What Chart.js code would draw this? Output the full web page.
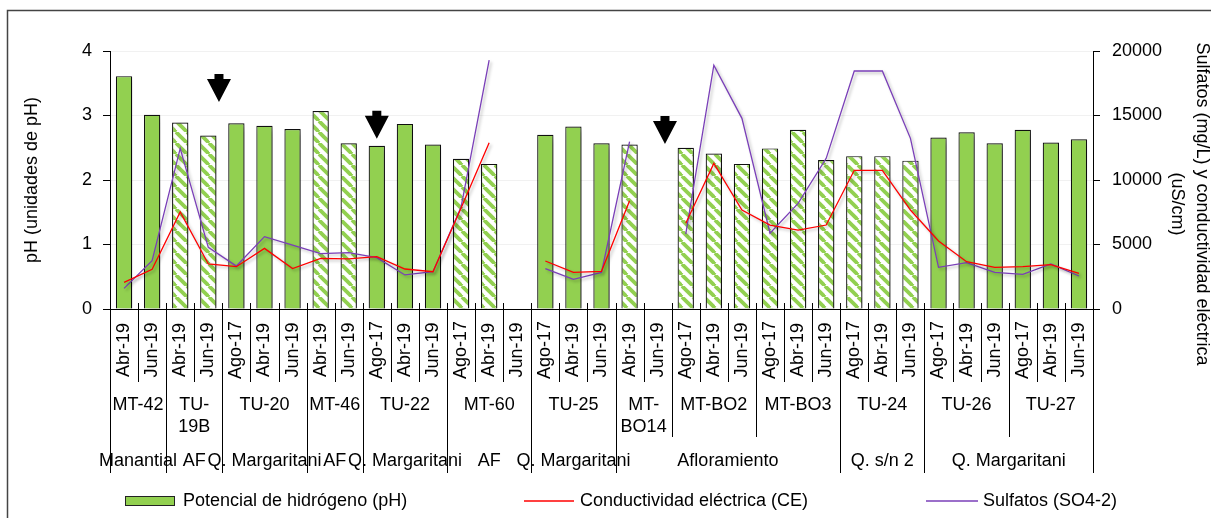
<!DOCTYPE html>
<html>
<head>
<meta charset="utf-8">
<script src="https://cdn.jsdelivr.net/npm/chart.js@4.4.0/dist/chart.umd.min.js"></script>
<style>
  html, body { margin: 0; padding: 0; background: #fff; }
  canvas { display: block; }
</style>
</head>
<body>
<canvas id="chart" width="1211" height="518"></canvas>
<script>
// Sampling campaign of every measurement (one bar each)
const dates = [
  'Abr-19', 'Jun-19',
  'Abr-19', 'Jun-19',
  'Ago-17', 'Abr-19', 'Jun-19',
  'Abr-19', 'Jun-19',
  'Ago-17', 'Abr-19', 'Jun-19',
  'Ago-17', 'Abr-19', 'Jun-19',
  'Ago-17', 'Abr-19', 'Jun-19',
  'Abr-19', 'Jun-19',
  'Ago-17', 'Abr-19', 'Jun-19',
  'Ago-17', 'Abr-19', 'Jun-19',
  'Ago-17', 'Abr-19', 'Jun-19',
  'Ago-17', 'Abr-19', 'Jun-19',
  'Ago-17', 'Abr-19', 'Jun-19'
];

// Monitoring stations (text lines as printed) and how many campaigns each one has
const stationNames = [
  ['MT-42'], ['TU-', '19B'], ['TU-20'], ['MT-46'], ['TU-22'], ['MT-60'], ['TU-25'],
  ['MT-', 'BO14'], ['MT-BO2'], ['MT-BO3'], ['TU-24'], ['TU-26'], ['TU-27']
];
const stationSizes = [2, 2, 3, 2, 3, 3, 3, 2, 3, 3, 3, 3, 3];

// Water source of each run of stations
const sourceNames = ['Manantial', 'AF', 'Q. Margaritani', 'AF', 'Q. Margaritani', 'AF',
                     'Q. Margaritani', 'Afloramiento', 'Q. s/n 2', 'Q. Margaritani'];
const sourceSizes = [1, 1, 1, 1, 1, 1, 1, 3, 1, 2];

// pH (left axis)
const ph = [3.61, 3.01, 2.89, 2.69, 2.88, 2.84, 2.79, 3.07, 2.57, 2.53, 2.87, 2.55,
            2.33, 2.25, null, 2.70, 2.83, 2.57, 2.55, null, 2.50, 2.41, 2.25, 2.49,
            2.78, 2.31, 2.37, 2.37, 2.30, 2.66, 2.74, 2.57, 2.78, 2.58, 2.63];

// Electrical conductivity, uS/cm (right axis)
const ce = [2070, 3080, 7520, 3490, 3280, 4700, 3130, 3930, 3880, 4060, 3100, 2890,
            7830, 12890, null, 3720, 2840, 2920, 8400, null, 6640, 11290, 7670, 6510,
            6120, 6510, 10750, 10750, 7670, 5270, 3670, 3230, 3280, 3440, 2770];

// Sulphates, mg/L (right axis)
const so4 = [1600, 3750, 12450, 4780, 3330, 5610, 4960, 4290, 4370, 3980, 2640, 2890,
             7900, 19300, null, 3130, 2300, 2840, 12970, null, 5810, 18900, 14780, 5870,
             8190, 11680, 18450, 18450, 13230, 3230, 3590, 2840, 2690, 3490, 2560];

// Left-axis and right-axis tick steps
const phTicks = [0, 1, 2, 3, 4];
const concTicks = [0, 5000, 10000, 15000, 20000];

// Down arrows placed over the bars (category position, pH at the tip)
const arrowMarks = [
  { at: 3.38, tip: 3.21 },
  { at: 9.0, tip: 2.64 },
  { at: 19.26, tip: 2.56 }
];

const FONT = "'Liberation Sans', Arial, Helvetica, sans-serif";
const GREEN = '#92D050';
const RED = '#FF0000';
const PURPLE = '#7A3FB8';
const hatchedSources = ['AF', 'Afloramiento', 'Q. s/n 2'];

// source of every bar, derived from the station/source grouping
const barSource = [];
{
  let st = 0;
  sourceNames.forEach((name, g) => {
    for (let k = 0; k < sourceSizes[g]; k++, st++) {
      for (let j = 0; j < stationSizes[st]; j++) barSource.push(name);
    }
  });
}

function makeHatch() {
  const s = 11;
  const c = document.createElement('canvas');
  c.width = s; c.height = s;
  const g = c.getContext('2d');
  g.fillStyle = '#fff';
  g.fillRect(0, 0, s, s);
  g.strokeStyle = GREEN;
  g.lineWidth = 3.8;
  for (const k of [-1, 0, 1]) {
    g.beginPath();
    g.moveTo(k * s, 0);
    g.lineTo(k * s + s, s);
    g.stroke();
  }
  return g.createPattern(c, 'repeat');
}
const hatch = makeHatch();
const barFill = barSource.map(s => hatchedSources.includes(s) ? hatch : GREEN);

const decorations = {
  id: 'decorations',
  beforeDatasetDraw(chart, args) {
    const ctx = chart.ctx;
    ctx.save();
    if (args.meta.type === 'bar') {
      ctx.shadowColor = 'rgba(0,0,0,0.4)';
      ctx.shadowBlur = 7;
      ctx.shadowOffsetX = 3;
      ctx.shadowOffsetY = 3;
    } else {
      ctx.shadowColor = 'rgba(0,0,0,0.28)';
      ctx.shadowBlur = 3;
      ctx.shadowOffsetX = 2;
      ctx.shadowOffsetY = 2;
    }
  },
  afterDatasetDraw(chart) {
    chart.ctx.restore();
  },
  afterDatasetsDraw(chart) {
    const ctx = chart.ctx;
    const xs = chart.scales.x, ys = chart.scales.y;
    ctx.save();
    ctx.fillStyle = '#000';
    arrowMarks.forEach(a => {
      const x = xs.getPixelForValue(a.at);
      const tip = ys.getPixelForValue(a.tip);
      ctx.beginPath();
      ctx.moveTo(x - 4.5, tip - 28);
      ctx.lineTo(x + 4.5, tip - 28);
      ctx.lineTo(x + 4.5, tip - 23);
      ctx.lineTo(x + 12, tip - 23);
      ctx.lineTo(x, tip);
      ctx.lineTo(x - 12, tip - 23);
      ctx.lineTo(x - 4.5, tip - 23);
      ctx.closePath();
      ctx.fill();
    });
    ctx.restore();
  },
  afterDraw(chart) {
    const ctx = chart.ctx;
    const xs = chart.scales.x;
    const area = chart.chartArea;
    const n = dates.length;
    const edge = i => i <= 0 ? area.left : i >= n ? area.right
      : (xs.getPixelForValue(i - 1) + xs.getPixelForValue(i)) / 2;

    // start index of each station and of each source
    const stationStart = [0];
    stationSizes.forEach(s => stationStart.push(stationStart[stationStart.length - 1] + s));
    const sourceStart = [0];
    {
      let st = 0;
      sourceSizes.forEach(s => { st += s; sourceStart.push(stationStart[st]); });
    }

    ctx.save();
    // separators of the three label rows
    ctx.strokeStyle = '#000';
    ctx.lineWidth = 1;
    for (let i = 0; i <= n; i++) {
      let bottom = 382;
      if (sourceStart.includes(i)) bottom = 473;
      else if (stationStart.includes(i)) bottom = 437;
      const x = Math.round(edge(i)) + 0.5;
      ctx.beginPath();
      ctx.moveTo(x, area.bottom - 6);
      ctx.lineTo(x, bottom);
      ctx.stroke();
    }

    ctx.fillStyle = '#000';
    ctx.font = '18px ' + FONT;
    ctx.textAlign = 'center';
    ctx.textBaseline = 'middle';

    // campaign labels, rotated
    dates.forEach((d, i) => {
      ctx.save();
      ctx.translate(xs.getPixelForValue(i), 350);
      ctx.rotate(-Math.PI / 2);
      ctx.fillText(d, 0, 0);
      ctx.restore();
    });

    // station labels
    stationNames.forEach((lines, k) => {
      const cx = (edge(stationStart[k]) + edge(stationStart[k + 1])) / 2;
      lines.forEach((t, j) => ctx.fillText(t, cx, 405 + j * 22));
    });

    // source labels
    sourceNames.forEach((t, g) => {
      const cx = (edge(sourceStart[g]) + edge(sourceStart[g + 1])) / 2;
      ctx.fillText(t, cx, 461);
    });

    // right axis title
    ctx.save();
    ctx.translate(1202, 204);
    ctx.rotate(Math.PI / 2);
    ctx.fillText('Sulfatos (mg/L) y conductividad eléctrica', 0, 0);
    ctx.fillText('(uS/cm)', 0, 25);
    ctx.restore();

    // legend
    const ds = chart.data.datasets;
    const ly = 501;
    ctx.textAlign = 'left';
    ctx.fillStyle = GREEN;
    ctx.fillRect(125, ly - 5, 50, 10);
    ctx.strokeStyle = '#222';
    ctx.strokeRect(125.5, ly - 4.5, 49, 9);
    ctx.fillStyle = '#000';
    ctx.fillText(ds[0].label, 183, ly);

    ctx.lineWidth = 1.5;
    ctx.strokeStyle = RED;
    ctx.beginPath(); ctx.moveTo(524, ly); ctx.lineTo(574, ly); ctx.stroke();
    ctx.fillText(ds[1].label, 580, ly);

    ctx.strokeStyle = PURPLE;
    ctx.beginPath(); ctx.moveTo(926, ly); ctx.lineTo(978, ly); ctx.stroke();
    ctx.fillText(ds[2].label, 983, ly);

    // frame
    ctx.strokeStyle = '#444';
    ctx.lineWidth = 1.5;
    ctx.beginPath();
    ctx.moveTo(7.5, 518);
    ctx.lineTo(7.5, 10.5);
    ctx.lineTo(1211, 10.5);
    ctx.stroke();
    ctx.restore();
  }
};

new Chart(document.getElementById('chart'), {
  data: {
    labels: dates,
    datasets: [
      {
        type: 'bar',
        label: 'Potencial de hidrógeno (pH)',
        data: ph,
        yAxisID: 'y',
        backgroundColor: barFill,
        borderColor: '#111',
        borderWidth: 1.2,
        barPercentage: 0.58,
        categoryPercentage: 1.0,
        order: 3
      },
      {
        type: 'line',
        label: 'Conductividad eléctrica (CE)',
        data: ce,
        yAxisID: 'y1',
        borderColor: RED,
        borderWidth: 1.3,
        pointRadius: 0,
        tension: 0,
        spanGaps: false,
        order: 1
      },
      {
        type: 'line',
        label: 'Sulfatos (SO4-2)',
        data: so4,
        yAxisID: 'y1',
        borderColor: PURPLE,
        borderWidth: 1.3,
        pointRadius: 0,
        tension: 0,
        spanGaps: false,
        order: 2
      }
    ]
  },
  options: {
    responsive: false,
    animation: false,
    events: [],
    layout: { padding: { left: 0, right: 0, top: 51, bottom: 0 } },
    plugins: { legend: { display: false }, tooltip: { enabled: false } },
    scales: {
      x: {
        type: 'category',
        offset: true,
        grid: { display: false },
        border: { display: true, color: '#000', width: 1 },
        ticks: { display: false },
        afterFit(s) { s.height = 209; }
      },
      y: {
        position: 'left',
        min: 0,
        max: 4,
        afterBuildTicks(s) { s.ticks = phTicks.map(v => ({ value: v })); },
        ticks: { color: '#000', font: { family: FONT, size: 18 }, padding: 11, callback: v => String(v) },
        grid: { color: '#f1f1f1', tickColor: '#000', tickLength: 7 },
        border: { color: '#000', width: 1 },
        title: {
          display: true,
          text: 'pH (unidades de pH)',
          color: '#000',
          font: { family: FONT, size: 18 },
          padding: { top: 21, bottom: 0 }
        },
        afterFit(s) { s.width = 110; }
      },
      y1: {
        position: 'right',
        min: 0,
        max: 20000,
        afterBuildTicks(s) { s.ticks = concTicks.map(v => ({ value: v })); },
        ticks: { color: '#000', font: { family: FONT, size: 18 }, padding: 12, callback: v => String(v) },
        grid: { drawOnChartArea: false, tickColor: '#000', tickLength: 7 },
        border: { color: '#000', width: 1 },
        afterFit(s) { s.width = 1211 - 1093; }
      }
    }
  },
  plugins: [decorations]
});
</script>
</body>
</html>
